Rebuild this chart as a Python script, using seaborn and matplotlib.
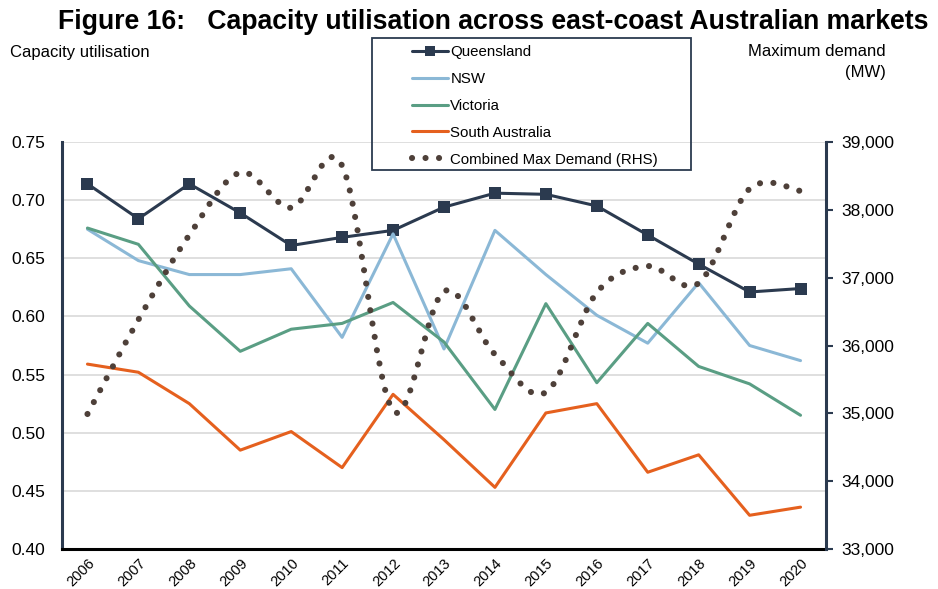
import numpy as np
import pandas as pd
import matplotlib
matplotlib.use("Agg")
import matplotlib.pyplot as plt
from matplotlib.path import Path
from matplotlib.patches import PathPatch, Rectangle
from matplotlib.lines import Line2D
from matplotlib.ticker import FuncFormatter
import seaborn as sns

# values
years = list(range(2006, 2021))
queensland = [0.714, 0.684, 0.714, 0.689, 0.661, 0.668, 0.674, 0.694,
              0.706, 0.705, 0.695, 0.670, 0.645, 0.621, 0.624]
nsw = [0.675, 0.648, 0.636, 0.636, 0.641, 0.582, 0.671, 0.572,
       0.674, 0.636, 0.601, 0.577, 0.629, 0.575, 0.562]
victoria = [0.676, 0.662, 0.609, 0.570, 0.589, 0.594, 0.612, 0.578,
            0.520, 0.611, 0.543, 0.594, 0.557, 0.542, 0.515]
south_australia = [0.559, 0.552, 0.525, 0.485, 0.501, 0.470, 0.533, 0.494,
                   0.453, 0.517, 0.525, 0.466, 0.481, 0.429, 0.436]
max_demand = [34990, 36380, 37630, 38550, 38030, 38650, 35040, 36800,
              35870, 35310, 36780, 37170, 36920, 38310, 38280]

series_names = ["Queensland", "NSW", "Victoria", "South Australia"]
series_colors = ["#2B3A4F", "#8BB8D6", "#5A9E84", "#E5601E"]
demand_color = "#4E4039"
navy = "#2B3A4F"
dot_style = (0, (0.01, 2.2))

sns.set_style("white")
plt.rcParams["font.family"] = ["Liberation Sans", "DejaVu Sans"]
plt.rcParams["text.color"] = "black"
plt.rcParams["xtick.labelcolor"] = "black"
plt.rcParams["ytick.labelcolor"] = "black"

fig = plt.figure(figsize=(9.38, 5.89), dpi=100)
ax = fig.add_axes([62 / 938, 1 - 549 / 589, (826 - 62) / 938, (549 - 142) / 589])

df = pd.DataFrame({"year": years, "Queensland": queensland, "NSW": nsw,
                   "Victoria": victoria, "South Australia": south_australia})

for name, col in zip(series_names, series_colors):
    kw = dict(marker="s", markersize=8, markeredgewidth=0) if name == "Queensland" else {}
    sns.lineplot(data=df, x="year", y=name, ax=ax, color=col, linewidth=2.2, legend=False, **kw)

ax.set_xlim(2005.5, 2020.5)
ax.set_ylim(0.40, 0.75)
ax.set_yticks(np.arange(0.40, 0.751, 0.05))
ax.yaxis.set_major_formatter(FuncFormatter(lambda v, p: f"{v:.2f}"))
ax.set_xticks(years)
ax.set_xticklabels([str(y) for y in years], rotation=45, ha="right",
                   rotation_mode="anchor", fontsize=10.5)
ax.tick_params(axis="y", labelsize=12.5, length=0, pad=12)
ax.tick_params(axis="x", length=0, pad=5)
ax.grid(axis="y", color="#D9D9D9", linewidth=1.2)
ax.set_axisbelow(True)
ax.set_xlabel("")
ax.set_ylabel("")
for s in ["top", "right"]:
    ax.spines[s].set_visible(False)
ax.spines["left"].set_color(navy)
ax.spines["left"].set_linewidth(2.2)
ax.spines["bottom"].set_color("black")
ax.spines["bottom"].set_linewidth(2.2)

# right axis: combined maximum demand, smoothed dotted line
ax2 = ax.twinx()
ax2.set_ylim(33000, 39000)
ax2.set_yticks(range(33000, 39001, 1000))
ax2.yaxis.set_major_formatter(FuncFormatter(lambda v, p: f"{int(v):,}"))
ax2.tick_params(axis="y", labelsize=12.5, length=5, width=1.5, color=navy, pad=6)
for s in ["top", "left", "bottom"]:
    ax2.spines[s].set_visible(False)
ax2.spines["right"].set_color(navy)
ax2.spines["right"].set_linewidth(2.2)
ax2.grid(False)

pts = np.column_stack([years, max_demand]).astype(float)
ext = np.vstack([pts[0], pts, pts[-1]])
verts = [tuple(pts[0])]
codes = [Path.MOVETO]
for i in range(1, len(ext) - 2):
    p0, p1, p2, p3 = ext[i - 1], ext[i], ext[i + 1], ext[i + 2]
    c1 = p1 + (p2 - p0) / 6
    c2 = p2 - (p3 - p1) / 6
    verts += [tuple(c1), tuple(c2), tuple(p2)]
    codes += [Path.CURVE4] * 3
ax2.add_patch(PathPatch(Path(verts, codes), fill=False, edgecolor=demand_color,
                        linewidth=4.4, linestyle=dot_style, capstyle="round"))
ax2.set_xlim(2005.5, 2020.5)

# titles and axis captions
fig.text(58 / 938, 1 - 22 / 589, "Figure 16:   Capacity utilisation across east-coast Australian markets",
         fontsize=19.2, fontweight="bold", va="center", ha="left")
fig.text(10 / 938, 1 - 52 / 589, "Capacity utilisation", fontsize=12, va="center", ha="left")
fig.text(886 / 938, 1 - 52 / 589, "Maximum demand", fontsize=12, va="center", ha="right")
fig.text(886 / 938, 1 - 73 / 589, "(MW)", fontsize=12, va="center", ha="right")

# legend box
fig.patches.append(Rectangle((372 / 938, 1 - 170 / 589), (691 - 372) / 938, (170 - 38) / 589,
                             transform=fig.transFigure, fill=False, edgecolor=navy, linewidth=1.3))
handles = [
    Line2D([], [], color=series_colors[0], linewidth=2.2, marker="s", markersize=7, markeredgewidth=0),
    Line2D([], [], color=series_colors[1], linewidth=2.2),
    Line2D([], [], color=series_colors[2], linewidth=2.2),
    Line2D([], [], color=series_colors[3], linewidth=2.2),
    Line2D([], [], color=demand_color, linewidth=4.4, linestyle=dot_style, dash_capstyle="round"),
]
labels = series_names + ["Combined Max Demand (RHS)"]
fig.legend(handles, labels, loc="upper left", bbox_to_anchor=(406 / 938, 1 - 39 / 589),
           frameon=False, fontsize=10.8, handlelength=2.4, handletextpad=0.15,
           labelspacing=0.86, borderaxespad=0)

fig.savefig("out.png", dpi=100)
